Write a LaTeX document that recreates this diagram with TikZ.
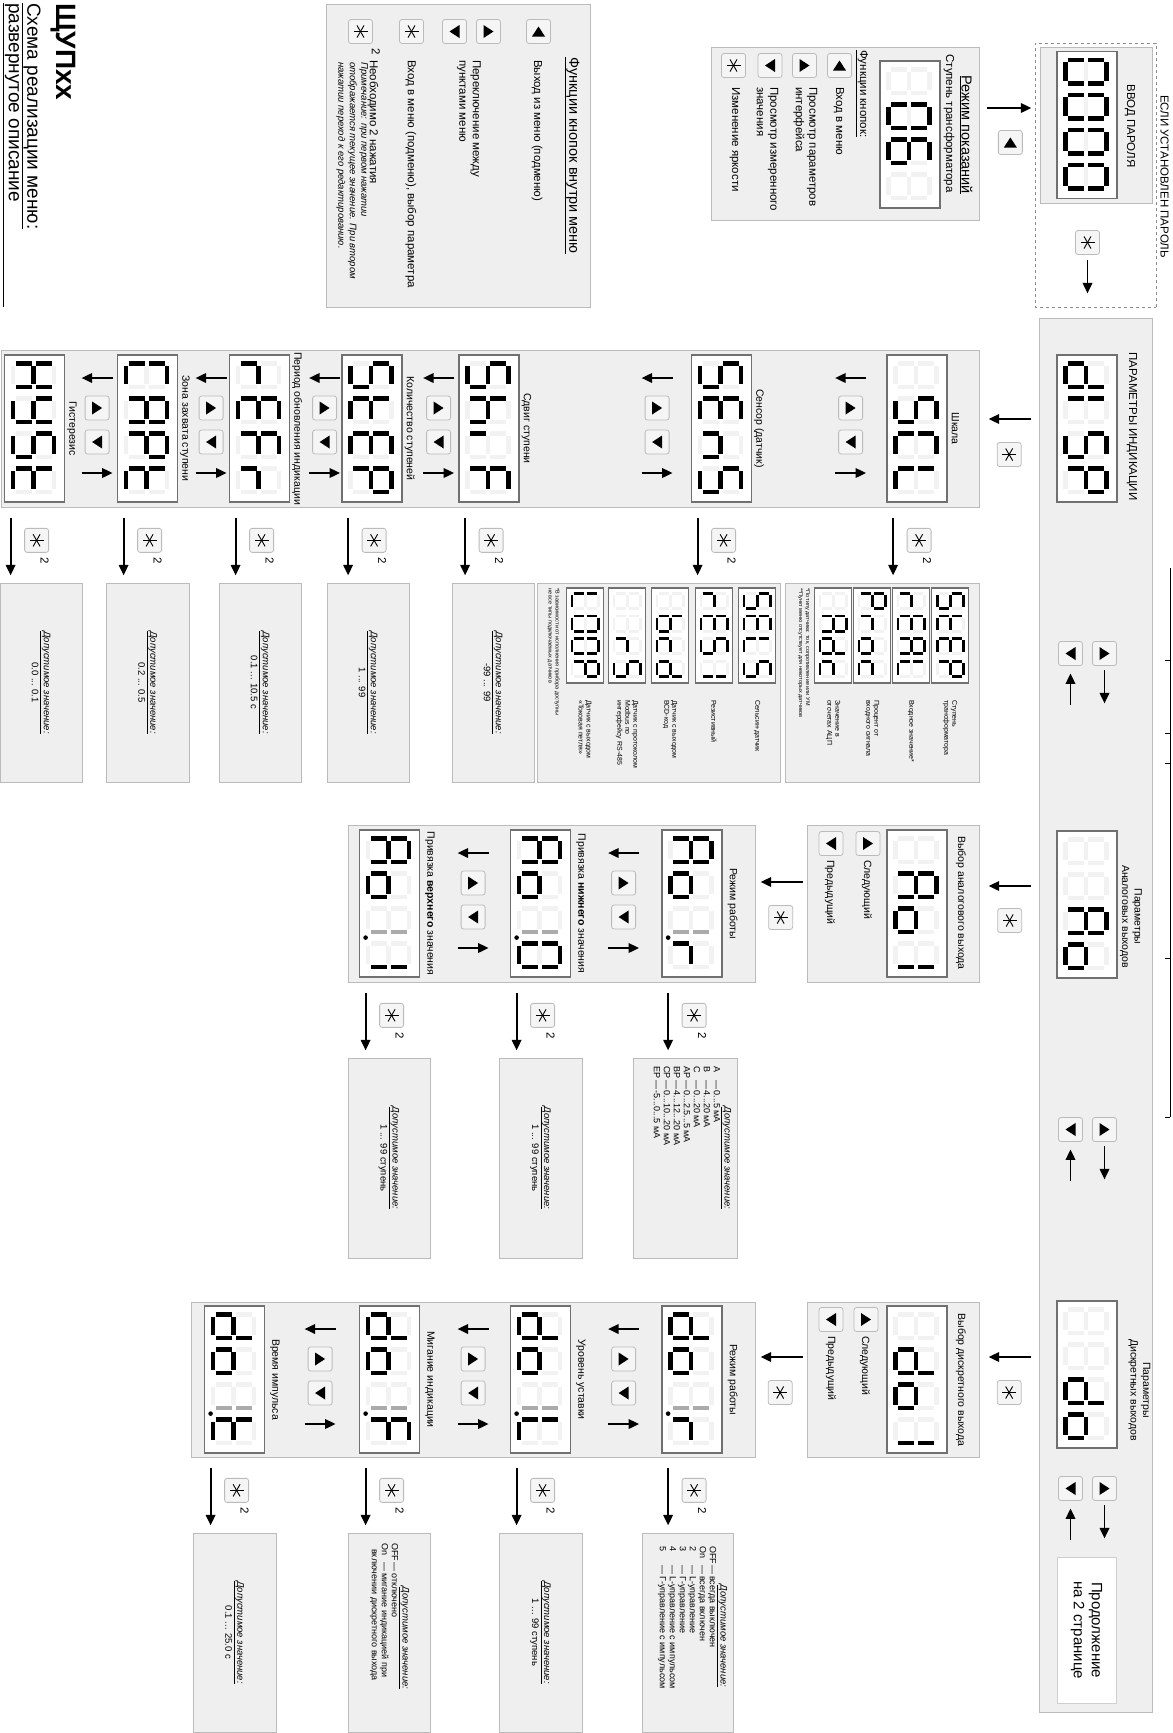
\documentclass[tikz,border=0pt]{standalone}
\usepackage{fontspec}
\setmainfont{Liberation Sans}
\usetikzlibrary{calc,positioning,arrows.meta}

\definecolor{panelgray}{HTML}{EFEFEF}
\definecolor{edgegray}{HTML}{BBBBBB}
\definecolor{ghostseg}{HTML}{F2F2F2}
\definecolor{dimseg}{HTML}{ABABAB}
\definecolor{dispedge}{HTML}{707070}

\newcommand\seglw{4.5}

\makeatletter
% one seven-segment cell: {lower left}{lit segments a-g; "=" dims them, "." adds a point}
\newcommand\sevchar[2]{%
  \begin{scope}[shift={#1}]
    \edef\segtest{\noexpand\in@{=}{#2}}\segtest
    \ifin@\def\segcol{dimseg}\else\def\segcol{black}\fi
    \edef\segtest{\noexpand\in@{.}{#2}}\segtest
    \ifin@\fill (-5.75,-2.5) circle (2.3);\fi
    \foreach \s/\xa/\ya/\xb/\yb in {a/2.5/41/21/41, b/23.5/38.5/23.5/22.5,
        c/23.5/18.5/23.5/2.5, d/2.5/0/21/0, e/0/2.5/0/18.5,
        f/0/22.5/0/38.5, g/2.5/20.5/21/20.5}{%
      \edef\segtest{\noexpand\in@{\s}{#2}}\segtest
      \ifin@\draw[seg, \segcol] (\xa,\ya) -- (\xb,\yb);
      \else\draw[seg, ghostseg] (\xa,\ya) -- (\xb,\yb);\fi}
  \end{scope}}
\makeatother

% the four cells of display node #2, at scale #1
\newcommand\sevword[3][1]{%
  \begin{scope}[shift={(#2.south west)}, scale=#1]
    \pgfmathsetmacro\seglw{4.5*#1}
    \foreach \cell [count=\i from 0] in {#3}{\sevchar{(9.25+35*\i,9.5)}{\cell}}
  \end{scope}}

% up/down keys with arrows under item #1, #2 below it
\newcommand\navgroup[2]{%
  \draw[arr] ($(#1.south)+(-50.5,-#2)$) -- ++(0,-31);
  \pic (#1-up) at ($(#1.south)+(-20.5,-#2-15.5)$) {keyup};
  \pic (#1-dn) at ($(#1.south)+(13.5,-#2-15.5)$) {keydown};
  \draw[arr] ($(#1.south)+(44.5,-#2-31)$) -- ++(0,31);}

% entry arrow with the double-press key, from item #1 out of its panel #2
\newcommand\entryarrow[2]{%
  \draw[arr] ($(#1.south -| #2.east)+(11,7)$) -- ++(57,0);
  \pic (#1-enter) at ($(#1.south -| #2.east)+(33,33)$) {keystar};
  \node[bigtxt] (#1-twice) at ($(#1.south -| #2.east)+(53,41)$) {2};}

\begin{document}
\begin{tikzpicture}[x=1pt, y=1pt, rotate=-90, transform shape,
  panel/.style={draw=edgegray, fill=panelgray, line width=0.7pt, inner sep=0pt},
  dispframe/.style={draw=dispedge, fill=white, line width=1.8pt, inner sep=0pt,
    minimum width=147, minimum height=60},
  smalldisp/.style={dispframe, line width=1.2pt, minimum width=95, minimum height=37},
  seg/.style={line width=\seglw pt},
  arr/.style={-{Triangle[length=10.5pt,width=9.5pt]}, line width=1.9pt},
  keycap/.style={draw=edgegray, fill=black!4, rounded corners=2.5pt,
    minimum size=24, inner sep=0pt, line width=0.8pt},
  pics/keyleft/.style={code={\node[keycap] (-cap) {};
    \fill (-5,0) -- (5,6.5) -- (5,-6.5) -- cycle;}},
  pics/keyup/.style={code={\node[keycap] (-cap) {};
    \fill (0,5) -- (6.5,-5) -- (-6.5,-5) -- cycle;}},
  pics/keydown/.style={code={\node[keycap] (-cap) {};
    \fill (0,-5) -- (6.5,5) -- (-6.5,5) -- cycle;}},
  pics/keystar/.style={code={\node[keycap] (-cap) {};
    \foreach \a in {30,90,150} \draw[line width=0.9pt] (\a:7) -- (\a+180:7);}},
  txt/.style={font=\fontsize{10.5}{12.5}\selectfont, inner sep=0pt, align=center},
  bigtxt/.style={font=\fontsize{11.5}{13.5}\selectfont, inner sep=0pt, align=center},
  fine/.style={font=\fontsize{7}{8}\selectfont, inner sep=0pt, align=left},
  vals/.style={font=\fontsize{9.5}{12}\selectfont, align=center},
  vlist/.style={font=\fontsize{9}{10}\selectfont, inner sep=0pt}]
\useasboundingbox (0,0) rectangle (1733,1173);

% heading
\node[anchor=west, inner sep=0pt, font=\fontsize{28}{30}\selectfont\bfseries] (title) at (3,63.5) {ЩУПхх};
\node[anchor=west, inner sep=0pt, font=\fontsize{19}{21}\selectfont] (subtitle) at (3,31) {\underline{Схема реализации меню:}};
\node[anchor=west, inner sep=0pt, font=\fontsize{19}{21}\selectfont] (subtitle2) at (3,12) {развернутое описание};

% keys inside the menu
\node[panel, minimum width=303, minimum height=264] (legend) at (155.5,458) {};
\draw[line width=0.6pt] ($(subtitle2.south west)+(0,-1)$) -- ($(subtitle2.south west -| legend.east)+(0,-1)$);
\node[font=\fontsize{14.5}{16}\selectfont, inner sep=0pt] (legendtitle) at (155.5,572) {\underline{Функции кнопок внутри меню}};
\pic (lk1) at (31.5,538.5) {keyleft};
\node[bigtxt, anchor=west] (lt1) at (60,537) {Выход из меню (подменю)};
\pic (lk2) at (31.5,488.5) {keyup};
\pic (lk3) at (31.5,454.5) {keydown};
\node[bigtxt, anchor=west, align=left] (lt2) at (60,469) {Переключение между\\пунктами меню};
\pic (lk4) at (31.5,411.5) {keystar};
\node[bigtxt, anchor=west] (lt3) at (60,411) {Вход в меню (подменю), выбор параметра};
\pic (lk5) at (31.5,360.5) {keystar};
\node[bigtxt] (lt4sup) at (52,376) {2};
\node[bigtxt, anchor=west] (lt4) at (60,373) {Необходимо 2 нажатия};
\node[font=\fontsize{9.5}{11.5}\selectfont\itshape, inner sep=0pt, anchor=north west, align=left] (lt5) at (62,368) {Примечание: при первом нажатии\\отображается текущее значение. При втором\\нажатии переход к его редактированию.};

% display mode
\node[panel, minimum width=173, minimum height=268] (mode) at (133.5,845) {};
\node[font=\fontsize{14.5}{16}\selectfont, inner sep=0pt] (modetitle) at (135,966) {\underline{Режим показаний}};
\node[bigtxt] (modesub) at (123.5,949) {Ступень трансформатора};
\node[dispframe] (dmain) at (134.5,910) {};
\sevword{dmain}{{},abcdef,acdefg,{}}
\node[bigtxt, anchor=west] (modekeys) at (50,862) {\underline{Функции кнопок:}};
\pic (mk1) at (65.5,839.5) {keyleft};
\node[bigtxt, anchor=west] (mt1) at (87,839) {Вход в меню};
\pic (mk2) at (65.5,804.5) {keyup};
\node[bigtxt, anchor=west, align=left] (mt2) at (87,805.5) {Просмотр параметров\\интерфейса};
\pic (mk3) at (65.5,770) {keydown};
\node[bigtxt, anchor=west, align=left] (mt3) at (87,767.5) {Просмотр измеренного\\значения};
\pic (mk4) at (65.5,733.5) {keystar};
\node[bigtxt, anchor=west] (mt4) at (87,735) {Изменение яркости};

% password
\node[draw=black!45, dashed, line width=0.6pt, minimum width=264, minimum height=121, inner sep=0pt] (pwframe) at (175,1095.5) {};
\node[bigtxt, anchor=south] (pwnote) at ($(pwframe.north)+(1.5,4)$) {ЕСЛИ УСТАНОВЛЕН ПАРОЛЬ};
\node[panel, minimum width=156, minimum height=112] (pwpanel) at (125,1096) {};
\node[dispframe] (dpw) at (125,1087) {};
\sevword{dpw}{abcdef,abcdef,abcdef,abcdef}
\node[bigtxt] (pwlabel) at (126,1130) {ВВОД ПАРОЛЯ};
\pic (pwkey) at (242.5,1087.5) {keystar};
\draw[arr] ($(pwkey-cap.east)+(5.5,0)$) -- ++(33,0);
\draw[arr] ($(mode.north)+(-25.5,8)$) -- ++(0,44);
\pic (pwenter) at ($(mode.north)+(9,31)$) {keyleft};

% main menu strip
\node[panel, minimum width=1394, minimum height=113] (strip) at (1015,1095.5) {};
\node[dispframe] (ddisp) at (428.5,1087) {};
\sevword{ddisp}{bcdeg,ef,acdfg,abefg}
\node[bigtxt] (ldisp) at (426.5,1132) {ПАРАМЕТРЫ ИНДИКАЦИИ};
\node[dispframe] (dao) at (904.5,1087) {};
\sevword{dao}{{},{},abcefg,cdeg}
\node[txt] (ldao) at (916.5,1131) {Параметры\\Аналоговых выходов};
\node[dispframe] (ddo) at (1374.5,1087) {};
\sevword{ddo}{{},{},bcdeg,cdeg}
\node[txt] (lddo) at (1390,1139.5) {Параметры\\Дискретных выходов};
\node[draw=edgegray!70, fill=white, line width=0.6pt, minimum width=146, minimum height=59, inner sep=0pt,
  font=\fontsize{15}{18}\selectfont, align=center] (nextpage) at (1630,1086.5) {Продолжение\\на 2 странице};
\foreach \u [count=\k] in {653.5,1129.5,1488.5}{
  \pic (sdn\k) at (\u,1070.5) {keydown};
  \pic (sup\k) at (\u,1104.5) {keyup};
  \draw[arr] ($(sdn\k-cap.east)+(39.5,0)$) -- ($(sdn\k-cap.east)+(7.5,0)$);
  \draw[arr] ($(sup\k-cap.east)+(4.5,0)$) -- ($(sup\k-cap.east)+(37.5,0)$);}
\draw[line width=0.8pt] (568,1170) -- (1117,1170);
\foreach \t in {660,733,763,958,1117} \draw[line width=0.8pt] (\t,1170) -- (\t,1165);

% display parameters
\node[panel, minimum width=157, minimum height=978] (col1) at (428.5,490) {};
\draw[arr] ($(strip.south -| ddisp.south)+(-9.5,-8)$) -- ++(0,-42);
\pic (k1) at ($(strip.south -| ddisp.south)+(26,-29.5)$) {keystar};

\node[dispframe] (dscl) at (428.5,917) {};
\sevword{dscl}{{},acdfg,adef,def}
\node[txt, anchor=base] (lscl) at ($(dscl.north)+(0,4)$) {Шкала};
\navgroup{dscl}{20}
\entryarrow{dscl}{col1}

\node[dispframe] (dsens) at (428.5,721.5) {};
\sevword{dsens}{acdfg,adefg,ceg,acdfg}
\node[txt, anchor=base] (lsens) at ($(dsens.north)+(0,4)$) {Сенсор (датчик)};
\navgroup{dsens}{18}
\entryarrow{dsens}{col1}

\node[dispframe] (dshif) at (428.5,489) {};
\sevword{dshif}{acdfg,cefg,e,aefg}
\node[txt, anchor=base] (lshif) at ($(dshif.north)+(0,4)$) {Сдвиг ступени};
\navgroup{dshif}{4}
\entryarrow{dshif}{col1}

\node[dispframe] (dstep) at (428.5,372) {};
\sevword{dstep}{acdfg,defg,adefg,abefg}
\node[txt, anchor=base] (lstep) at ($(dstep.north)+(0,4)$) {Количество ступеней};
\navgroup{dstep}{1}
\entryarrow{dstep}{col1}

\node[dispframe] (drefr) at (428.5,259.5) {};
\sevword{drefr}{eg,adefg,aefg,eg}
\node[txt, anchor=base] (lrefr) at ($(drefr.north)+(0,4)$) {Период обновления индикации};
\navgroup{drefr}{2}
\entryarrow{drefr}{col1}

\node[dispframe] (dcapt) at (428.5,147.5) {};
\sevword{dcapt}{adef,abcefg,abefg,defg}
\node[txt, anchor=base] (lcapt) at ($(dcapt.north)+(0,4)$) {Зона захвата ступени};
\navgroup{dcapt}{4}
\entryarrow{dcapt}{col1}

\node[dispframe] (dhyst) at (428.5,34.5) {};
\sevword{dhyst}{bcefg,bcdfg,acdfg,defg}
\node[txt, anchor=base] (lhyst) at ($(dhyst.north)+(0,4)$) {Гистерезис};
\entryarrow{dhyst}{col1}

% scale choices
\node[panel, minimum width=199, minimum height=194] (vscl) at (682.5,882) {};
\node[smalldisp] (sstep) at (635.5,950) {};
\sevword[0.646]{sstep}{acdfg,defg,adefg,abefg}
\node[fine, anchor=west] (tstep) at (700,950) {Ступень\\трансформатора};
\node[smalldisp] (sreal) at (635.5,911) {};
\sevword[0.646]{sreal}{eg,adefg,abcefg,def}
\node[fine, anchor=west] (treal) at (700,911) {Входное значение*};
\node[smalldisp] (sproc) at (635.5,872) {};
\sevword[0.646]{sproc}{abefg,eg,cdeg,deg}
\node[fine, anchor=west] (tproc) at (700,872) {Процент от\\входного сигнала};
\node[smalldisp] (sadc) at (635.5,833) {};
\sevword[0.646]{sadc}{{},abcefg,bcdeg,deg}
\node[fine, anchor=west] (tadc) at (700,833) {Значение в\\отсчетах АЦП};
\node[fine, anchor=west, font=\fontsize{5.5}{7}\selectfont] (nscl) at (588,804) {*По типу датчика: ток, сопротивление или УМ\\**Пункт меню отсутствует для некоторых датчиков};

% sensor choices
\node[panel, minimum width=199, minimum height=243] (vsens) at (682.5,658.5) {};
\node[smalldisp] (ssels) at (635.5,757) {};
\sevword[0.646]{ssels}{acdfg,adefg,def,acdfg}
\node[fine, anchor=west] (tsels) at (700,757) {Сельсин-датчик};
\node[smalldisp] (sresi) at (635.5,714) {};
\sevword[0.646]{sresi}{eg,adefg,acdfg,bc}
\node[fine, anchor=west] (tresi) at (700,714) {Резистивный};
\node[smalldisp] (sbcd) at (635.5,670) {};
\sevword[0.646]{sbcd}{{},cdefg,deg,bcdeg}
\node[fine, anchor=west] (tbcd) at (700,670) {Датчик с выходом\\BCD-код};
\node[smalldisp] (srs) at (635.5,627) {};
\sevword[0.646]{srs}{{},{},eg,acdfg}
\node[fine, anchor=west] (trs) at (700,627) {Датчик с протоколом\\Modbus по\\интерфейсу RS-485};
\node[smalldisp] (sloop) at (635.5,585) {};
\sevword[0.646]{sloop}{def,abcdef,abcdef,abefg}
\node[fine, anchor=west] (tloop) at (700,585) {Датчик с выходом\\«Токовая петля»};
\node[fine, anchor=west, font=\fontsize{5.5}{7}\selectfont] (nsens) at (588,553.5) {*В зависимости от исполнения прибора доступны\\не все типы подключаемых датчиков};

% allowed values, display parameters
\node[panel, vals, minimum width=199, minimum height=82] (vshif) at (682.5,493) {\underline{\textit{Допустимое значение:}}\\-99 ... 99};
\node[panel, vals, minimum width=199, minimum height=82] (vstep) at (682.5,368) {\underline{\textit{Допустимое значение:}}\\1 ... 99};
\node[panel, vals, minimum width=199, minimum height=82] (vrefr) at (682.5,260) {\underline{\textit{Допустимое значение:}}\\0.1 ... 10.5 с};
\node[panel, vals, minimum width=199, minimum height=83] (vcapt) at (682.5,147.5) {\underline{\textit{Допустимое значение:}}\\0.2 ... 0.5};
\node[panel, vals, minimum width=199, minimum height=82] (vhyst) at (682.5,41) {\underline{\textit{Допустимое значение:}}\\0.0 ... 0.1};

% analog outputs
\draw[arr] ($(strip.south -| dao.south)+(-18.5,-8)$) -- ++(0,-42);
\pic (k2) at ($(strip.south -| dao.south)+(16,-29)$) {keystar};
\node[panel, minimum width=157, minimum height=172] (aosel) at (903.5,893) {};
\node[txt, anchor=base] (laosel) at (903,958) {Выбор аналогового выхода};
\node[dispframe] (daosel) at (903.5,917) {};
\sevword{daosel}{{},abcefg,cdeg,bc}
\pic (aonext) at (843.5,868) {keyup};
\node[txt, anchor=west] (taonext) at (860,867) {Следующий};
\pic (aoprev) at (843.5,831) {keydown};
\node[txt, anchor=west] (taoprev) at (860,830) {Предыдущий};
\node[panel, minimum width=157, minimum height=407] (aolow) at (903.5,551.5) {};
\draw[arr] ($(aosel.south)+(-21.5,-4)$) -- ++(0,-42);
\pic (k3) at ($(aosel.south)+(14,-26)$) {keystar};

\node[dispframe] (daor) at (903.5,692) {};
\sevword{daor}{abcefg,cdeg,=bc,.eg}
\node[txt, anchor=base] (laor) at ($(daor.north)+(0,7)$) {Режим работы};
\navgroup{daor}{22}
\entryarrow{daor}{aolow}

\node[dispframe] (dao0) at (903.5,540.5) {};
\sevword{dao0}{abcefg,cdeg,=bc,.abcdef}
\node[txt, anchor=base] (lao0) at ($(dao0.north)+(0,7)$) {Привязка \textbf{нижнего} значения};
\navgroup{dao0}{21}
\entryarrow{dao0}{aolow}

\node[dispframe] (dao1) at (903.5,389.5) {};
\sevword{dao1}{abcefg,cdeg,=bc,.bc}
\node[txt, anchor=base] (lao1) at ($(dao1.north)+(0,7)$) {Привязка \textbf{верхнего} значения};
\entryarrow{dao1}{aolow}

\node[panel, minimum width=200, minimum height=104] (vaor) at (1158,685) {};
\node[vals, inner sep=0pt] (vaorhead) at (1158,726) {\underline{\textit{Допустимое значение:}}};
\node[vlist, anchor=north west] (aorlist) at (1066,721) {%
  \begin{tabular}{@{}l@{\,—\,}l@{}}
  A & 0...5 мА\\ B & 4...20 мА\\ C & 0...20 мА\\ AP & 0...2.5...5 мА\\
  BP & 4...12...20 мА\\ CP & 0...10...20 мА\\ EP & -5...0...5 мА
  \end{tabular}};
\node[panel, vals, minimum width=200, minimum height=83] (vao0) at (1158,540.5) {\underline{\textit{Допустимое значение:}}\\1 ... 99 ступень};
\node[panel, vals, minimum width=200, minimum height=82] (vao1) at (1158,389) {\underline{\textit{Допустимое значение:}}\\1 ... 99 ступень};

% discrete outputs
\draw[arr] ($(strip.south -| ddo.south)+(-17.5,-8)$) -- ++(0,-42);
\pic (k4) at ($(strip.south -| ddo.south)+(18,-29.5)$) {keystar};
\node[panel, minimum width=155, minimum height=172] (dosel) at (1379.5,893) {};
\node[txt, anchor=base] (ldosel) at (1380,958) {Выбор дискретного выхода};
\node[dispframe] (ddosel) at (1379.5,917) {};
\sevword{ddosel}{{},bcdeg,cdeg,bc}
\pic (donext) at (1319.5,866) {keyup};
\node[txt, anchor=west] (tdonext) at (1336,865) {Следующий};
\pic (doprev) at (1319.5,831) {keydown};
\node[txt, anchor=west] (tdoprev) at (1336,831) {Предыдущий};
\node[panel, minimum width=155, minimum height=564] (dolow) at (1379.5,473) {};
\draw[arr] ($(dosel.south)+(-22.5,-4)$) -- ++(0,-42);
\pic (k5) at ($(dosel.south)+(13,-26.5)$) {keystar};

\node[dispframe] (ddor) at (1379.5,692) {};
\sevword{ddor}{bcdeg,cdeg,=bc,.eg}
\node[txt, anchor=base] (ldor) at ($(ddor.north)+(0,7)$) {Режим работы};
\navgroup{ddor}{22}
\entryarrow{ddor}{dolow}

\node[dispframe] (ddol) at (1379.5,540.5) {};
\sevword{ddol}{bcdeg,cdeg,=bc,.def}
\node[txt, anchor=base] (ldol) at ($(ddol.north)+(0,7)$) {Уровень уставки};
\navgroup{ddol}{21}
\entryarrow{ddol}{dolow}

\node[dispframe] (ddof) at (1379.5,389.5) {};
\sevword{ddof}{bcdeg,cdeg,=bc,.aefg}
\node[txt, anchor=base] (ldof) at ($(ddof.north)+(0,7)$) {Мигание индикации};
\navgroup{ddof}{23}
\entryarrow{ddof}{dolow}

\node[dispframe] (ddot) at (1379.5,234.5) {};
\sevword{ddot}{bcdeg,cdeg,=bc,.defg}
\node[txt, anchor=base] (ldot) at ($(ddot.north)+(0,7)$) {Время импульса};
\entryarrow{ddot}{dolow}

\node[panel, minimum width=199, minimum height=91] (vdor) at (1632.5,687.5) {};
\node[vals, inner sep=0pt] (vdorhead) at (1636,722) {\underline{\textit{Допустимое значение:}}};
\node[vlist, anchor=north west] (dorlist) at (1546,717) {%
  \begin{tabular}{@{}l@{\,—\,}l@{}}
  OFF & всегда выключен\\ On & всегда включен\\ 2 & L-управление\\
  3 & Г-управление\\ 4 & L-управление с импульсом\\ 5 & Г-управление с импульсом
  \end{tabular}};
\node[panel, vals, minimum width=199, minimum height=83] (vdol) at (1632.5,540.5) {\underline{\textit{Допустимое значение:}}\\1 ... 99 ступень};
\node[panel, minimum width=199, minimum height=82] (vdof) at (1632.5,389) {};
\node[vals, inner sep=0pt] (vdofhead) at (1638,404) {\underline{\textit{Допустимое значение:}}};
\node[vlist, anchor=north west] (doflist) at (1543,399) {%
  \begin{tabular}{@{}l@{\,—\,}l@{}}
  OFF & отключено\\ On & мигание индикацией при\\
  \multicolumn{2}{@{\hspace{6pt}}l@{}}{включении дискретного выхода}
  \end{tabular}};
\node[panel, vals, minimum width=199, minimum height=83] (vdot) at (1632.5,234.5) {\underline{\textit{Допустимое значение:}}\\0.1 ... 25.0 с};
\end{tikzpicture}
\end{document}
